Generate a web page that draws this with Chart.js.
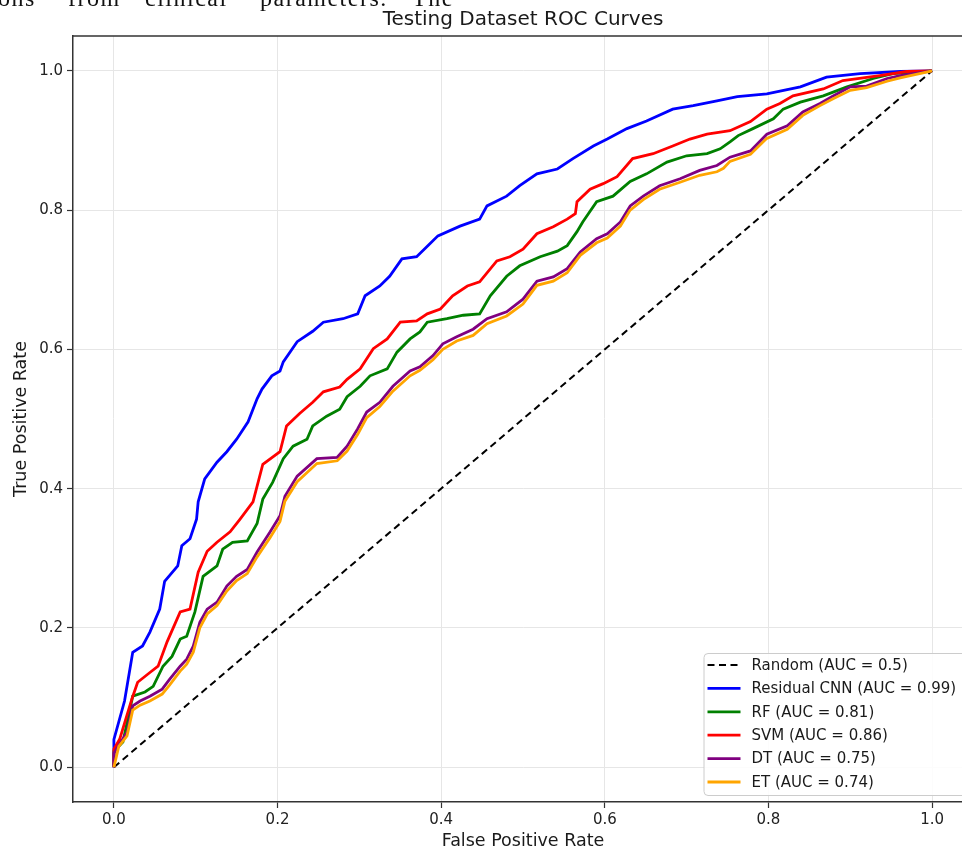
<!DOCTYPE html>
<html lang="en">
<head>
    <meta charset="UTF-8">
    <title>Testing Dataset ROC Curves</title>
    <script src="https://cdn.jsdelivr.net/npm/chart.js"></script>
    <style>
        html, body {
            margin: 0;
            padding: 0;
            background: #fff;
            overflow: hidden;
        }
        .wrap {
            position: relative;
            width: 962px;
            height: 852px;
            overflow: hidden;
        }
        .page-text {
            position: absolute;
            top: -14px;
            left: 0;
            height: 30px;
            font-family: "Liberation Serif", serif;
            font-size: 24px;
            line-height: 24px;
            letter-spacing: 1.5px;
            color: #111;
            white-space: nowrap;
            z-index: 2;
        }
        .page-text span {
            position: absolute;
            top: 0;
        }
        #rocChart {
            position: absolute;
            left: 0;
            top: 0;
        }
    </style>
</head>
<body>
<div class="wrap">
    <div class="page-text">
        <span style="left:-2px">ons</span>
        <span style="left:68px">from</span>
        <span style="left:145px">clinical</span>
        <span style="left:260px">parameters.</span>
        <span style="left:412px">The</span>
    </div>
    <!-- the figure is cropped on the right, so the canvas runs past the page edge -->
    <canvas id="rocChart" width="980" height="852"></canvas>
</div>

    <script>
        const xTicks = [0, 0.2, 0.4, 0.6, 0.8, 1.0];
        const yTicks = [0, 0.2, 0.4, 0.6, 0.8, 1.0];

        const randomFpr = [0, 1];
        const randomTpr = [0, 1];

        const cnnFpr = [0, 0, 0.013, 0.023, 0.035, 0.044, 0.056, 0.062, 0.078, 0.083, 0.093, 0.101, 0.103, 0.111, 0.126, 0.138, 0.150, 0.164, 0.175, 0.181, 0.193, 0.203, 0.207, 0.224, 0.243, 0.256, 0.280, 0.298, 0.307, 0.325, 0.337, 0.352, 0.370, 0.384, 0.396, 0.423, 0.447, 0.456, 0.480, 0.496, 0.517, 0.542, 0.561, 0.586, 0.603, 0.627, 0.651, 0.683, 0.708, 0.737, 0.762, 0.798, 0.839, 0.871, 0.912, 0.961, 1];
        const cnnTpr = [0, 0.040, 0.095, 0.165, 0.174, 0.194, 0.227, 0.267, 0.289, 0.318, 0.328, 0.356, 0.381, 0.414, 0.438, 0.453, 0.471, 0.496, 0.529, 0.543, 0.562, 0.569, 0.582, 0.611, 0.626, 0.639, 0.644, 0.651, 0.677, 0.691, 0.705, 0.730, 0.733, 0.749, 0.763, 0.777, 0.787, 0.806, 0.820, 0.835, 0.852, 0.859, 0.874, 0.892, 0.902, 0.917, 0.928, 0.945, 0.950, 0.957, 0.963, 0.967, 0.977, 0.991, 0.996, 0.999, 1];

        const rfFpr = [0, 0, 0.011, 0.023, 0.038, 0.048, 0.060, 0.071, 0.081, 0.089, 0.099, 0.109, 0.126, 0.133, 0.145, 0.163, 0.175, 0.182, 0.194, 0.207, 0.219, 0.236, 0.243, 0.260, 0.276, 0.285, 0.301, 0.313, 0.334, 0.346, 0.362, 0.374, 0.383, 0.407, 0.427, 0.447, 0.460, 0.480, 0.496, 0.521, 0.542, 0.554, 0.566, 0.573, 0.590, 0.610, 0.631, 0.651, 0.676, 0.700, 0.725, 0.741, 0.753, 0.763, 0.781, 0.806, 0.818, 0.839, 0.867, 0.896, 0.928, 0.952, 1];
        const rfTpr = [0, 0.023, 0.036, 0.102, 0.108, 0.116, 0.145, 0.159, 0.184, 0.188, 0.223, 0.274, 0.289, 0.313, 0.323, 0.325, 0.350, 0.385, 0.409, 0.443, 0.461, 0.471, 0.490, 0.504, 0.514, 0.532, 0.547, 0.562, 0.572, 0.596, 0.615, 0.625, 0.639, 0.644, 0.649, 0.651, 0.677, 0.705, 0.720, 0.733, 0.741, 0.749, 0.769, 0.783, 0.812, 0.820, 0.841, 0.852, 0.869, 0.878, 0.881, 0.888, 0.898, 0.907, 0.917, 0.931, 0.945, 0.955, 0.964, 0.977, 0.989, 0.996, 1];

        const svmFpr = [0, 0, 0.007, 0.022, 0.029, 0.044, 0.054, 0.065, 0.081, 0.093, 0.103, 0.114, 0.126, 0.142, 0.154, 0.170, 0.182, 0.203, 0.211, 0.227, 0.243, 0.256, 0.276, 0.285, 0.301, 0.317, 0.334, 0.350, 0.370, 0.383, 0.399, 0.414, 0.432, 0.447, 0.468, 0.484, 0.500, 0.517, 0.537, 0.554, 0.564, 0.566, 0.582, 0.598, 0.615, 0.634, 0.659, 0.683, 0.704, 0.725, 0.753, 0.778, 0.798, 0.814, 0.830, 0.867, 0.891, 0.936, 0.969, 1];
        const svmTpr = [0, 0.026, 0.040, 0.098, 0.122, 0.136, 0.145, 0.180, 0.223, 0.227, 0.280, 0.310, 0.323, 0.338, 0.356, 0.381, 0.435, 0.453, 0.490, 0.508, 0.524, 0.539, 0.546, 0.557, 0.572, 0.601, 0.615, 0.639, 0.641, 0.651, 0.658, 0.677, 0.691, 0.697, 0.727, 0.733, 0.744, 0.766, 0.776, 0.787, 0.795, 0.812, 0.830, 0.838, 0.848, 0.874, 0.881, 0.892, 0.902, 0.909, 0.914, 0.927, 0.945, 0.953, 0.964, 0.974, 0.986, 0.993, 0.999, 1];

        const dtFpr = [0, 0, 0.016, 0.023, 0.032, 0.044, 0.059, 0.068, 0.081, 0.089, 0.097, 0.105, 0.114, 0.126, 0.138, 0.150, 0.163, 0.175, 0.191, 0.203, 0.209, 0.224, 0.248, 0.273, 0.285, 0.298, 0.309, 0.325, 0.341, 0.362, 0.374, 0.390, 0.402, 0.419, 0.439, 0.456, 0.480, 0.500, 0.517, 0.537, 0.554, 0.570, 0.590, 0.603, 0.619, 0.631, 0.647, 0.667, 0.692, 0.716, 0.737, 0.753, 0.778, 0.798, 0.823, 0.842, 0.863, 0.879, 0.900, 0.920, 0.945, 0.961, 1];
        const dtTpr = [0, 0.020, 0.050, 0.088, 0.095, 0.102, 0.112, 0.126, 0.145, 0.155, 0.174, 0.208, 0.227, 0.237, 0.260, 0.274, 0.284, 0.309, 0.338, 0.361, 0.389, 0.418, 0.443, 0.445, 0.461, 0.486, 0.510, 0.524, 0.547, 0.569, 0.575, 0.591, 0.608, 0.618, 0.629, 0.644, 0.654, 0.672, 0.698, 0.704, 0.716, 0.740, 0.759, 0.766, 0.783, 0.806, 0.820, 0.835, 0.845, 0.857, 0.864, 0.876, 0.885, 0.909, 0.921, 0.941, 0.953, 0.964, 0.977, 0.978, 0.989, 0.993, 1];

        const etFpr = [0, 0.006, 0.016, 0.023, 0.032, 0.044, 0.059, 0.068, 0.081, 0.089, 0.097, 0.105, 0.114, 0.126, 0.138, 0.150, 0.163, 0.175, 0.191, 0.203, 0.209, 0.224, 0.248, 0.273, 0.285, 0.298, 0.309, 0.325, 0.341, 0.362, 0.374, 0.390, 0.402, 0.419, 0.439, 0.456, 0.480, 0.500, 0.517, 0.537, 0.554, 0.570, 0.590, 0.603, 0.619, 0.631, 0.647, 0.667, 0.692, 0.716, 0.737, 0.745, 0.753, 0.778, 0.798, 0.823, 0.842, 0.863, 0.879, 0.900, 0.920, 0.945, 0.961, 1];
        const etTpr = [0, 0.030, 0.045, 0.082, 0.089, 0.095, 0.105, 0.118, 0.138, 0.148, 0.165, 0.200, 0.220, 0.232, 0.253, 0.268, 0.278, 0.302, 0.330, 0.353, 0.382, 0.410, 0.436, 0.440, 0.454, 0.478, 0.502, 0.518, 0.540, 0.562, 0.570, 0.585, 0.600, 0.612, 0.620, 0.637, 0.648, 0.665, 0.692, 0.698, 0.710, 0.735, 0.753, 0.760, 0.777, 0.800, 0.815, 0.830, 0.840, 0.850, 0.855, 0.860, 0.870, 0.880, 0.903, 0.916, 0.936, 0.950, 0.960, 0.972, 0.976, 0.985, 0.990, 1];

        function toPoints(xs, ys) {
            return xs.map((x, i) => ({ x: x, y: ys[i] }));
        }

        const series = [
            { label: 'Random (AUC = 0.5)', fpr: randomFpr, tpr: randomTpr, color: '#000000', dash: [7, 4.5], width: 2 },
            { label: 'Residual CNN (AUC = 0.99)', fpr: cnnFpr, tpr: cnnTpr, color: '#0000ff', dash: [], width: 2.8 },
            { label: 'RF (AUC = 0.81)', fpr: rfFpr, tpr: rfTpr, color: '#008000', dash: [], width: 2.8 },
            { label: 'SVM (AUC = 0.86)', fpr: svmFpr, tpr: svmTpr, color: '#ff0000', dash: [], width: 2.8 },
            { label: 'DT (AUC = 0.75)', fpr: dtFpr, tpr: dtTpr, color: '#800080', dash: [], width: 2.8 },
            { label: 'ET (AUC = 0.74)', fpr: etFpr, tpr: etTpr, color: '#ffa500', dash: [], width: 2.8 }
        ];

        // legend in the lower right corner, matplotlib style
        const boxLegend = {
            id: 'boxLegend',
            afterDatasetsDraw(chart) {
                const { ctx, chartArea } = chart;
                const w = 262, h = 142;
                const x0 = chartArea.right - 7.5 - w;
                const y0 = chartArea.bottom - 7 - h;
                ctx.save();
                ctx.fillStyle = 'rgba(255,255,255,0.85)';
                ctx.strokeStyle = '#cccccc';
                ctx.lineWidth = 1;
                ctx.beginPath();
                ctx.roundRect(x0 + 0.5, y0 + 0.5, w, h, 4);
                ctx.fill();
                ctx.stroke();
                ctx.font = '15px "DejaVu Sans"';
                ctx.textBaseline = 'middle';
                chart.data.datasets.forEach((ds, i) => {
                    const y = y0 + 12 + i * 23.4;
                    ctx.strokeStyle = ds.borderColor;
                    ctx.lineWidth = ds.borderWidth;
                    ctx.setLineDash(ds.borderDash || []);
                    ctx.beginPath();
                    ctx.moveTo(x0 + 4, y);
                    ctx.lineTo(x0 + 37, y);
                    ctx.stroke();
                    ctx.setLineDash([]);
                    ctx.fillStyle = '#1a1a1a';
                    ctx.fillText(ds.label, x0 + 48, y + 1);
                });
                ctx.restore();
            }
        };

        // top and right spines (the right one falls past the page edge)
        const topSpine = {
            id: 'topSpine',
            afterDraw(chart) {
                const { ctx, chartArea } = chart;
                ctx.save();
                ctx.strokeStyle = '#333333';
                ctx.lineWidth = 1.5;
                ctx.beginPath();
                ctx.moveTo(chartArea.left, chartArea.top);
                ctx.lineTo(chartArea.right, chartArea.top);
                ctx.lineTo(chartArea.right, chartArea.bottom);
                ctx.stroke();
                ctx.restore();
            }
        };

        const ctx = document.getElementById('rocChart').getContext('2d');
        new Chart(ctx, {
            type: 'scatter',
            data: {
                datasets: series.map((s, i) => ({
                    label: s.label,
                    data: toPoints(s.fpr, s.tpr),
                    showLine: true,
                    borderColor: s.color,
                    backgroundColor: s.color,
                    borderWidth: s.width,
                    borderDash: s.dash,
                    pointRadius: 0,
                    tension: 0,
                    order: series.length - i
                }))
            },
            options: {
                responsive: false,
                animation: false,
                events: [],
                layout: {
                    padding: { left: 0, right: 7, top: 0, bottom: 0 }
                },
                scales: {
                    x: {
                        type: 'linear',
                        min: -0.05,
                        max: 1.05,
                        afterBuildTicks: (scale) => {
                            scale.ticks = xTicks.map(v => ({ value: v }));
                        },
                        afterFit: (scale) => {
                            scale.height = 50;
                        },
                        grid: {
                            color: '#e6e6e6',
                            lineWidth: 1,
                            tickColor: '#333333',
                            tickLength: 6,
                            tickWidth: 1.2
                        },
                        border: { color: '#333333', width: 1.5 },
                        ticks: {
                            padding: 3,
                            color: '#222222',
                            font: { family: 'DejaVu Sans', size: 15 },
                            callback: (v) => Number(v).toFixed(1)
                        },
                        title: {
                            display: true,
                            text: 'False Positive Rate',
                            color: '#1a1a1a',
                            font: { family: 'DejaVu Sans', size: 17.5 },
                            padding: { top: 0, bottom: 0 }
                        }
                    },
                    y: {
                        type: 'linear',
                        min: -0.05,
                        max: 1.05,
                        afterBuildTicks: (scale) => {
                            scale.ticks = yTicks.map(v => ({ value: v }));
                        },
                        afterFit: (scale) => {
                            scale.width = 73;
                        },
                        grid: {
                            color: '#e6e6e6',
                            lineWidth: 1,
                            tickColor: '#333333',
                            tickLength: 6,
                            tickWidth: 1.2
                        },
                        border: { color: '#333333', width: 1.5 },
                        ticks: {
                            padding: 4,
                            color: '#222222',
                            font: { family: 'DejaVu Sans', size: 15 },
                            callback: (v) => Number(v).toFixed(1)
                        },
                        title: {
                            display: true,
                            text: 'True Positive Rate',
                            color: '#1a1a1a',
                            font: { family: 'DejaVu Sans', size: 17.5 },
                            padding: { top: 11, bottom: 0 }
                        }
                    }
                },
                plugins: {
                    legend: { display: false },
                    tooltip: { enabled: false },
                    title: {
                        display: true,
                        text: 'Testing Dataset ROC Curves',
                        fullSize: false,
                        color: '#1a1a1a',
                        font: { family: 'DejaVu Sans', size: 20, weight: 'normal' },
                        padding: { top: 8, bottom: 4 }
                    }
                }
            },
            plugins: [boxLegend, topSpine]
        });
    </script>
</body>
</html>
